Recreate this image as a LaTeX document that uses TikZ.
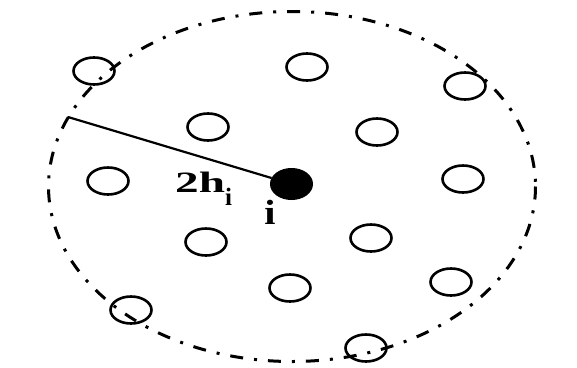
\documentclass[tikz,border=0pt]{standalone}
\usepackage{fontspec}
\setmainfont{Liberation Serif}
\usetikzlibrary{shapes.geometric}
\tikzset{
  ring/.style={draw=black, line width=2.6pt, ellipse, minimum width=41pt, minimum height=27pt, inner sep=0pt},
  dot/.style={fill=black, draw=black, line width=1pt, ellipse, minimum width=42pt, minimum height=31pt, inner sep=0pt},
  boundary/.style={draw=black, line width=3pt, dash pattern=on 13pt off 11pt on 3pt off 11pt},
  radius line/.style={draw=black, line width=2.2pt},
  lbl/.style={inner sep=0pt, font=\bfseries}
}
\begin{document}
\begin{tikzpicture}[x=1pt,y=-1pt]
\useasboundingbox (0,0) rectangle (577,367);
% outer dash-dotted boundary
\draw[boundary] (292,186.5) ellipse [x radius=243.5, y radius=175];
% neighbour particles
\node[ring] (c1) at (94,71) {};
\node[ring] (c2) at (208,127) {};
\node[ring] (c3) at (307,67) {};
\node[ring] (c4) at (465,86) {};
\node[ring] (c5) at (377,132) {};
\node[ring] (c6) at (463,179) {};
\node[ring] (c7) at (108,181) {};
\node[ring] (c8) at (206,242) {};
\node[ring] (c9) at (131,310) {};
\node[ring] (c10) at (290,288) {};
\node[ring] (c11) at (371,238) {};
\node[ring] (c12) at (451,282) {};
\node[ring] (c13) at (366,348) {};
% particle i
\node[dot] (pi) at (291.5,184) {};
\coordinate (edge) at (68,117);
\draw[radius line] (edge) -- (pi);
% labels
\node[lbl, anchor=base west] (h) at (175,192) {\fontsize{29.5}{30}\selectfont\scalebox{1.6}[1]{2h}\raisebox{-13pt}{\fontsize{25}{25}\selectfont i}};
\node[lbl, anchor=base] (ilab) at (270,224) {\fontsize{35}{35}\selectfont\scalebox{1.15}[1]{i}};
\end{tikzpicture}
\end{document}
